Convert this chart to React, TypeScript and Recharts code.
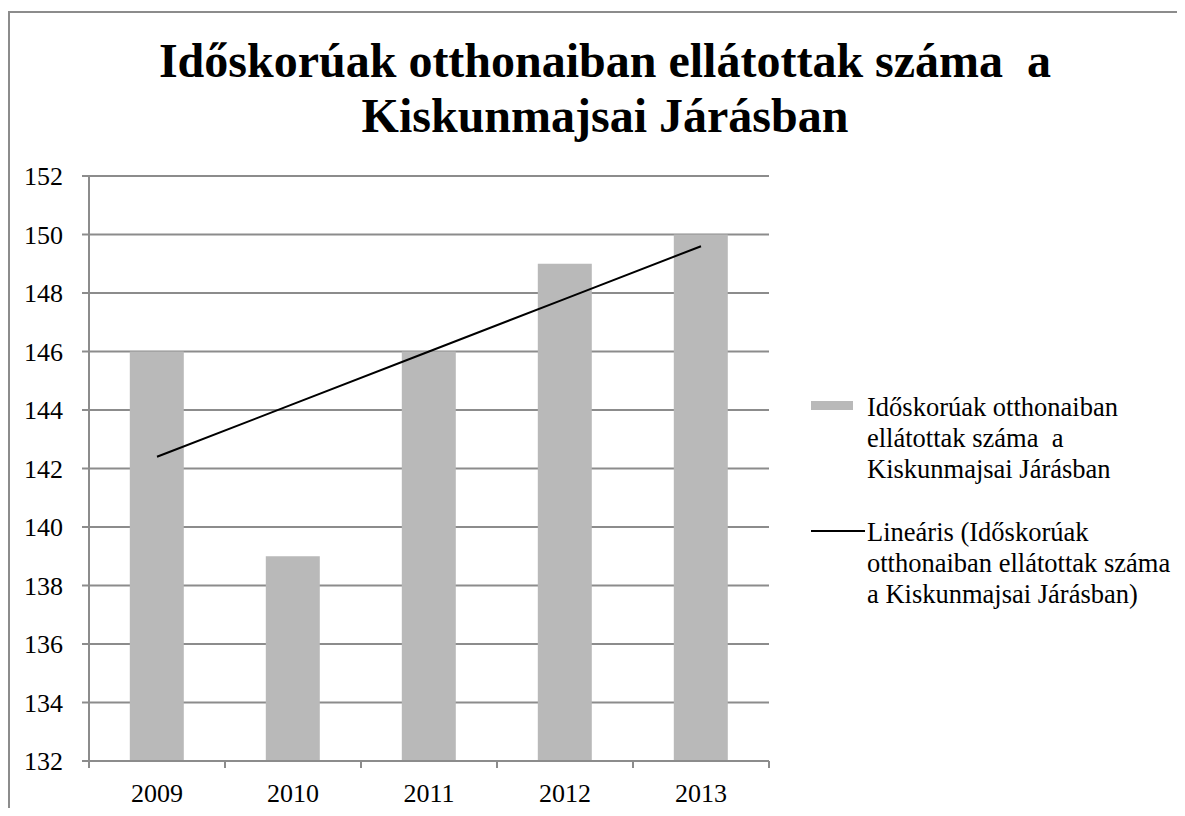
import React from 'react';
import { ComposedChart, Bar, Line, XAxis, YAxis, CartesianGrid, Legend } from 'recharts';

const years = ['2009', '2010', '2011', '2012', '2013'];
const counts = [146, 139, 146, 149, 150];
const trendValues = [142.4, 144.2, 146.0, 147.8, 149.6];
const yTicks = [132, 134, 136, 138, 140, 142, 144, 146, 148, 150, 152];

const seriesName = 'Időskorúak otthonaiban ellátottak száma  a Kiskunmajsai Járásban';
const trendName = 'Lineáris (Időskorúak otthonaiban ellátottak száma  a Kiskunmajsai Járásban)';
const titleLines = ['Időskorúak otthonaiban ellátottak száma  a', 'Kiskunmajsai Járásban'];
const barLegendLines = ['Időskorúak otthonaiban', 'ellátottak száma  a', 'Kiskunmajsai Járásban'];
const trendLegendLines = ['Lineáris (Időskorúak', 'otthonaiban ellátottak száma', 'a Kiskunmajsai Járásban)'];

const data = years.map((year, i) => ({ year, count: counts[i], trend: trendValues[i] }));

const FONT = 'Liberation Serif';
const GRID = '#8c8c8c';
const BAR = '#b9b9b9';

const XTick = (props: any) => {
  const { x, y, payload, index, visibleTicksCount } = props;
  const half = payload && typeof payload.offset === 'number' && payload.offset > 0 ? payload.offset : 68;
  const isLast = index === visibleTicksCount - 1;
  return (
    <g>
      <line x1={x - half} x2={x - half} y1={y} y2={y + 7} stroke={GRID} strokeWidth={2} />
      {isLast && <line x1={x + half} x2={x + half} y1={y} y2={y + 7} stroke={GRID} strokeWidth={2} />}
      <text x={x} y={y + 23} dy="0.71em" textAnchor="middle" fontFamily={FONT} fontSize={26} fill="#000">
        {payload.value}
      </text>
    </g>
  );
};

const YTick = (props: any) => {
  const { x, y, payload } = props;
  return (
    <text x={x} y={y} dy="0.355em" textAnchor="end" fontFamily={FONT} fontSize={26} fill="#000">
      {payload.value}
    </text>
  );
};

const renderLegend = () => (
  <div style={{ fontFamily: FONT, fontSize: 26.5, lineHeight: '31px', color: '#000', whiteSpace: 'pre', textAlign: 'left' }}>
    <div style={{ position: 'relative', paddingLeft: 56 }} title={seriesName}>
      <div style={{ position: 'absolute', left: 0, top: 9, width: 42, height: 9, background: BAR }} />
      {barLegendLines.map((l) => (
        <div key={l}>{l}</div>
      ))}
    </div>
    <div style={{ position: 'relative', paddingLeft: 56, marginTop: 32 }} title={trendName}>
      <div style={{ position: 'absolute', left: 0, top: 13, width: 54, height: 2, background: '#000' }} />
      {trendLegendLines.map((l) => (
        <div key={l}>{l}</div>
      ))}
    </div>
  </div>
);

export default function App() {
  return (
    <div
      style={{
        position: 'relative',
        width: 1185,
        height: 816,
        margin: -8,
        overflow: 'hidden',
        background: '#fff',
        fontFamily: FONT,
      }}
    >
      <div
        style={{
          position: 'absolute',
          left: 8,
          top: 11,
          width: 1400,
          height: 1200,
          borderLeft: `2px solid ${GRID}`,
          borderTop: `2px solid ${GRID}`,
          boxSizing: 'border-box',
        }}
      />
      <div
        style={{
          position: 'absolute',
          left: 0,
          top: 33,
          width: 1210,
          textAlign: 'center',
          fontFamily: FONT,
          fontWeight: 'bold',
          fontSize: 48,
          lineHeight: '55px',
          whiteSpace: 'pre',
          color: '#000',
          zIndex: 2,
        }}
      >
        {titleLines.map((l) => (
          <div key={l}>{l}</div>
        ))}
      </div>
      <div style={{ position: 'absolute', left: 0, top: 0 }}>
        <ComposedChart
          width={1185}
          height={816}
          data={data}
          margin={{ top: 176, right: 416, bottom: 15, left: 29 }}
          barCategoryGap="30%"
          style={{ fontFamily: FONT }}
        >
          <CartesianGrid horizontal vertical={false} stroke={GRID} strokeWidth={2} />
          <XAxis
            dataKey="year"
            height={40}
            axisLine={{ stroke: GRID, strokeWidth: 2 }}
            tickLine={false}
            tickSize={0}
            tickMargin={0}
            tick={<XTick />}
            interval={0}
          />
          <YAxis
            width={60}
            domain={[132, 152]}
            ticks={yTicks}
            interval={0}
            axisLine={{ stroke: GRID, strokeWidth: 2 }}
            tickLine={{ stroke: GRID, strokeWidth: 2 }}
            tickSize={7}
            tickMargin={19}
            tick={<YTick />}
          />
          <Bar dataKey="count" name={seriesName} fill={BAR} isAnimationActive={false} />
          <Line
            dataKey="trend"
            name={trendName}
            stroke="#000"
            strokeWidth={2}
            dot={false}
            activeDot={false}
            isAnimationActive={false}
          />
          <Legend
            layout="vertical"
            align="center"
            verticalAlign="middle"
            content={renderLegend}
            wrapperStyle={{ left: 811, top: 392, width: 370 }}
          />
        </ComposedChart>
      </div>
    </div>
  );
}
